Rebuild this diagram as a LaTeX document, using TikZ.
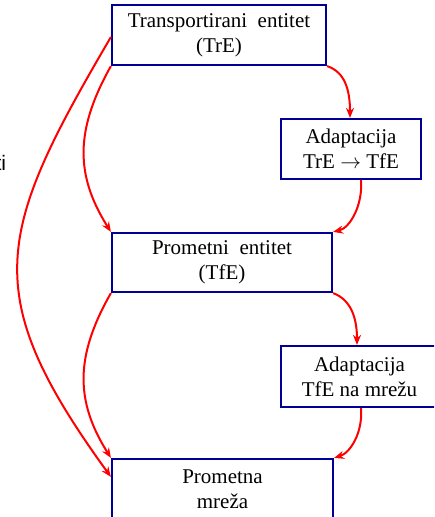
\documentclass[tikz,border=0pt]{standalone}
\usepackage{fontspec}
\setmainfont{Liberation Serif}
\newfontfamily\labsans{Liberation Sans}
\usetikzlibrary{arrows.meta}
\definecolor{boxblue}{RGB}{0,0,150}
\definecolor{arrred}{RGB}{255,0,0}
\begin{document}
\begin{tikzpicture}[x=1pt,y=-1pt,
  box/.style={draw=boxblue, line width=2.2pt, align=center, inner sep=0pt, font=\fontsize{21}{25}\selectfont},
  flow/.style={draw=arrred, line width=2pt, -{Stealth[length=10pt,width=8pt]}}]
\clip (0,0) rectangle (434,517);
\node[box, minimum width=214pt, minimum height=60pt] (b1) at (219,35) {Transportirani\ \ entitet\\(TrE)};
\node[box, minimum width=140pt, minimum height=60pt] (b2) at (351,149) {Adaptacija\\TrE $\rightarrow$ TfE};
\node[box, minimum width=220pt, minimum height=59pt] (b3) at (222,262.5) {Prometni\ \ entitet\\(TfE)};
\node[box, minimum width=157pt, minimum height=61pt] (b4) at (359.5,376.5) {Adaptacija\\TfE na mrežu};
\node[box, minimum width=221pt, minimum height=60pt] (b5) at (222.5,489) {Prometna\\mreža};
\node[font=\labsans\fontsize{21}{24}\selectfont, anchor=base east, inner sep=0pt] (lbl) at (6.2,170) {ti};
% right-side chain
\draw[flow] (b1.south east) .. controls (345,72) and (350,90) .. ([xshift=-1pt]b2.north);
\draw[flow] ([xshift=10pt]b2.south) .. controls (363,205) and (350,228) .. (b3.north east);
\draw[flow] (b3.south east) .. controls (352,300) and (357,320) .. ([xshift=-2.5pt]b4.north);
\draw[flow] ([xshift=1.5pt]b4.south) .. controls (363,433) and (350,453) .. (b5.north east);
% left-side curves
\draw[flow] (b1.south west) .. controls (75,130) and (75,175) .. (b3.north west);
\draw[flow] (b3.south west) .. controls (75,356) and (75,401) .. (b5.north west);
\coordinate (b5in) at ([yshift=-19pt]b5.north west);
\draw[flow] ([yshift=-2pt]b1.west) .. controls (-4,233) and (-22.5,293) .. (b5in);
\end{tikzpicture}
\end{document}
